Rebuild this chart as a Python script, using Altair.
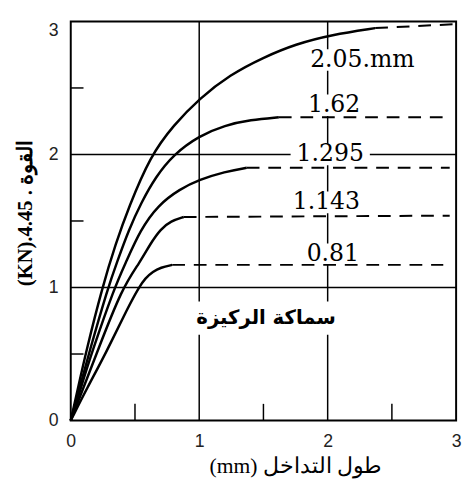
import altair as alt
import pandas as pd

# ---- data ----
series_names = ["2.05", "1.62", "1.295", "1.143", "0.81"]

s205_x = [0, 0.06, 0.12, 0.245, 0.35, 0.45, 0.62, 0.80, 1.00, 1.24, 1.50, 1.75, 2.03, 2.37]
s205_y = [0, 0.26, 0.52, 1.00, 1.33, 1.60, 1.99, 2.22, 2.42, 2.60, 2.73, 2.83, 2.90, 2.95]

s162_x = [0, 0.07, 0.14, 0.29, 0.36, 0.45, 0.55, 0.66, 0.80, 1.00, 1.20, 1.40, 1.62]
s162_y = [0, 0.25, 0.50, 1.00, 1.19, 1.43, 1.64, 1.83, 2.00, 2.14, 2.22, 2.26, 2.28]

s1295_x = [0, 0.08, 0.16, 0.34, 0.43, 0.54, 0.68, 0.85, 1.00, 1.20, 1.37]
s1295_y = [0, 0.25, 0.50, 1.00, 1.19, 1.43, 1.62, 1.74, 1.81, 1.87, 1.90]

s1143_x = [0, 0.10, 0.20, 0.40, 0.54, 0.62, 0.70, 0.78, 0.88]
s1143_y = [0, 0.25, 0.50, 1.00, 1.19, 1.33, 1.44, 1.50, 1.53]

s081_x = [0, 0.13, 0.27, 0.45, 0.53, 0.58, 0.64, 0.70, 0.79]
s081_y = [0, 0.25, 0.50, 0.86, 1.00, 1.07, 1.12, 1.15, 1.17]

# dashed continuations (start, end)
dash_x0 = [2.37, 1.62, 1.37, 0.88, 0.79]
dash_y0 = [2.95, 2.28, 1.90, 1.53, 1.17]
dash_x1 = [3.00, 2.95, 2.95, 2.95, 2.90]
dash_y1 = [2.98, 2.28, 1.90, 1.54, 1.17]

label_text = ["2.05.mm", "1.62", "1.295", "1.143", "0.81"]
label_x = [2.27, 2.05, 2.02, 1.99, 2.04]
label_y = [2.71, 2.37, 2.00, 1.64, 1.25]

note_text = "سماكة الركيزة"
note_x = 1.52
note_y = 0.77

grid_values = [1, 2]
minor_values = [0.5, 1.5, 2.5]
tick_values = [0, 1, 2, 3]

x_title = "(mm) طول التداخل"
y_title = "(KN).4.45 . القوة"

# ---- tables ----
W, H = 393, 407
px_x = W / 3.0
px_y = H / 3.0

rows = []
for name, xs, ys in zip(series_names,
                        [s205_x, s162_x, s1295_x, s1143_x, s081_x],
                        [s205_y, s162_y, s1295_y, s1143_y, s081_y]):
    for i, (a, b) in enumerate(zip(xs, ys)):
        rows.append({"series": name, "order": i, "x": a, "y": b})
solid = pd.DataFrame(rows)

drows = []
for name, a0, b0, a1, b1 in zip(series_names, dash_x0, dash_y0, dash_x1, dash_y1):
    drows.append({"series": name, "order": 0, "x": a0, "y": b0})
    drows.append({"series": name, "order": 1, "x": a1, "y": b1})
dashed = pd.DataFrame(drows)

char_w = {".": 7.6, "m": 22.8}
def text_width(t):
    return sum(char_w.get(c, 15.3) for c in t)

boxes = []
for t, a, b in zip(label_text, label_x, label_y):
    hw = (text_width(t) / 2 + 6) / px_x
    hh = 11 / px_y
    boxes.append({"x": a - hw, "x2": a + hw, "y": b - hh, "y2": b + hh})
boxes.append({"x": note_x - 82 / px_x, "x2": note_x + 82 / px_x,
              "y": note_y - 17 / px_y, "y2": note_y + 17 / px_y})
boxes = pd.DataFrame(boxes)

labels = pd.DataFrame({"x": label_x, "y": label_y, "text": label_text})
note = pd.DataFrame({"x": [note_x], "y": [note_y], "text": [note_text]})
grid_df = pd.DataFrame({"x": grid_values, "y": grid_values})
minor_df = pd.DataFrame({"x": minor_values, "y": minor_values})

xscale = alt.Scale(domain=[0, 3], nice=False, zero=False)
yscale = alt.Scale(domain=[0, 3], nice=False, zero=False)

x_axis = alt.Axis(values=tick_values, format="d", grid=False, domain=False,
                  ticks=False, tickSize=0, labelFont="Liberation Sans",
                  labelFontSize=18, labelColor="#222", labelPadding=12,
                  labelFlush=False, title=x_title, titleFont="Liberation Serif",
                  titleFontSize=22, titleFontWeight="normal", titleColor="black",
                  titleX=229, titleY=36, titleAlign="center", titleBaseline="top")
y_axis = alt.Axis(values=tick_values, format="d", grid=False, domain=False,
                  ticks=False, tickSize=0, labelFont="Liberation Sans",
                  labelFontSize=18, labelColor="#222", labelPadding=13,
                  labelFlush=False,
                  labelBaseline={"condition": {"test": "datum.value == 3", "value": "top"},
                                 "value": "middle"},
                  title=y_title, titleFont="Liberation Serif", titleFontSize=21,
                  titleFontWeight="bold", titleColor="black", titleAngle=270,
                  titleX=-46, titleY=195, titleAlign="center", titleBaseline="middle")

solid_curves = alt.Chart(solid).mark_line(
    color="black", strokeWidth=2.5, interpolate="basis"
).encode(
    x=alt.X("x:Q", scale=xscale, axis=x_axis),
    y=alt.Y("y:Q", scale=yscale, axis=y_axis),
    detail="series:N",
    order="order:Q",
)

grid_h = alt.Chart(grid_df).mark_rule(color="black", strokeWidth=1.5).encode(
    y=alt.Y("y:Q", scale=yscale))
grid_v = alt.Chart(grid_df).mark_rule(color="black", strokeWidth=1.5).encode(
    x=alt.X("x:Q", scale=xscale))

minor_left = alt.Chart(minor_df).mark_rule(color="black", strokeWidth=1.5).encode(
    y=alt.Y("y:Q", scale=yscale), x=alt.value(0), x2=alt.value(13))
minor_bottom = alt.Chart(minor_df).mark_rule(color="black", strokeWidth=1.5).encode(
    x=alt.X("x:Q", scale=xscale), y=alt.value(H), y2=alt.value(H - 17))

box_layer = alt.Chart(boxes).mark_rect(fill="white").encode(
    x=alt.X("x:Q", scale=xscale), x2="x2:Q",
    y=alt.Y("y:Q", scale=yscale), y2="y2:Q")

dashed_layer = alt.Chart(dashed).mark_line(
    color="black", strokeWidth=2, strokeDash=[13, 9]
).encode(
    x=alt.X("x:Q", scale=xscale),
    y=alt.Y("y:Q", scale=yscale),
    detail="series:N",
    order="order:Q",
)

label_layer = alt.Chart(labels).mark_text(
    font="DejaVu Serif", fontSize=24, color="black", align="center", baseline="middle"
).encode(x=alt.X("x:Q", scale=xscale), y=alt.Y("y:Q", scale=yscale), text="text:N")

note_layer = alt.Chart(note).mark_text(
    font="DejaVu Sans", fontSize=20, fontWeight="bold", color="black",
    align="center", baseline="middle"
).encode(x=alt.X("x:Q", scale=xscale), y=alt.Y("y:Q", scale=yscale), text="text:N")

chart = alt.layer(
    grid_h, grid_v, minor_left, minor_bottom, box_layer,
    solid_curves, dashed_layer, label_layer, note_layer
).properties(
    width=W, height=H,
    padding={"left": 7, "top": 7, "right": 0, "bottom": 2},
).configure_view(stroke="black", strokeWidth=2)

chart.save("out.html", embed_options={"renderer": "svg", "actions": False})
